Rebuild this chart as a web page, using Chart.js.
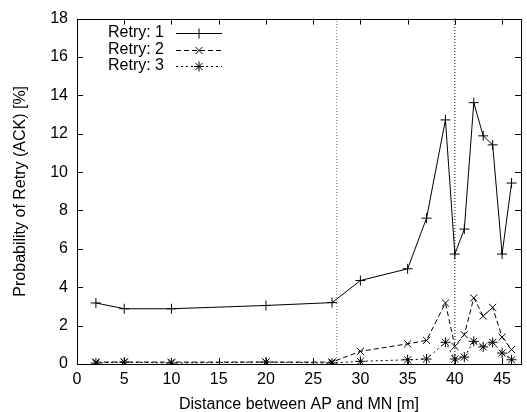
<!DOCTYPE html>
<html>
<head>
<meta charset="utf-8">
<script src="https://cdn.jsdelivr.net/npm/chart.js@4/dist/chart.umd.min.js"></script>
<style>
html,body{margin:0;padding:0;background:#fff;}
#wrap{width:527px;height:412px;position:relative;}
</style>
</head>
<body>
<div id="wrap"><canvas id="c" width="527" height="412"></canvas></div>
<script>
const xValues = [2, 5, 10, 20, 27, 30, 35, 37, 39, 40, 41, 42, 43, 44, 45, 46];
const retry1 = [3.18, 2.88, 2.88, 3.05, 3.2, 4.35, 4.96, 7.6, 12.72, 5.73, 7.03, 13.62, 11.89, 11.42, 5.73, 9.43];
const retry2 = [0.1, 0.1, 0.1, 0.1, 0.1, 0.66, 1.05, 1.23, 3.18, 0.92, 1.53, 3.44, 2.5, 2.95, 1.4, 0.75];
const retry3 = [0.05, 0.1, 0.05, 0.1, 0.05, 0.14, 0.22, 0.26, 1.13, 0.26, 0.36, 1.18, 0.89, 1.13, 0.57, 0.22];
const seriesNames = ['Retry: 1', 'Retry: 2', 'Retry: 3'];
const markerLines = [27.5, 40];
const xTicks = [0, 5, 10, 15, 20, 25, 30, 35, 40, 45];
const yTicks = [0, 2, 4, 6, 8, 10, 12, 14, 16, 18];
const xTitle = 'Distance between AP and MN [m]';
const yTitle = 'Probability of Retry (ACK) [%]';

const FONT = '"Liberation Sans", Arial, Helvetica, sans-serif';
const FS = 16;
const styles = [
  {dash: [], point: 'cross'},
  {dash: [5, 3], point: 'crossRot'},
  {dash: [2, 3], point: 'star'}
];
const seriesData = [retry1, retry2, retry3];

const datasets = seriesData.map((vals, i) => ({
  label: seriesNames[i],
  data: xValues.map((x, j) => ({x: x, y: vals[j]})),
  borderColor: '#000',
  backgroundColor: '#000',
  borderWidth: 1,
  borderDash: styles[i].dash,
  pointStyle: styles[i].point,
  pointRadius: 5,
  pointBorderWidth: 1,
  pointBorderColor: '#000',
  tension: 0,
  fill: false
}));
markerLines.forEach((v, i) => {
  datasets.push({
    label: 'marker' + i,
    data: [{x: v, y: 0}, {x: v, y: 18}],
    borderColor: i === 0 ? '#777' : '#000',
    borderWidth: 1,
    borderDash: [1, 2],
    pointRadius: 0,
    fill: false
  });
});

const framePlugin = {
  id: 'frame',
  afterDraw(chart) {
    const ctx = chart.ctx;
    const a = chart.chartArea;
    const xs = chart.scales.x, ys = chart.scales.y;
    ctx.save();
    ctx.strokeStyle = '#000';
    ctx.lineWidth = 1;
    ctx.setLineDash([]);
    ctx.strokeRect(Math.round(a.left) + 0.5, Math.round(a.top) + 0.5, Math.round(a.right - a.left), Math.round(a.bottom - a.top));
    const L = 6;
    ctx.beginPath();
    xTicks.forEach(v => {
      const px = Math.round(xs.getPixelForValue(v)) + 0.5;
      ctx.moveTo(px, a.bottom); ctx.lineTo(px, a.bottom - L);
      ctx.moveTo(px, a.top); ctx.lineTo(px, a.top + L);
    });
    yTicks.forEach(v => {
      const py = Math.round(ys.getPixelForValue(v)) + 0.5;
      ctx.moveTo(a.left, py); ctx.lineTo(a.left + L, py);
      ctx.moveTo(a.right, py); ctx.lineTo(a.right - L, py);
    });
    ctx.stroke();
    // legend
    ctx.font = FS + 'px ' + FONT;
    ctx.fillStyle = '#000';
    ctx.textAlign = 'right';
    ctx.textBaseline = 'middle';
    const textRight = 164, lx0 = 176, lx1 = 222, y0 = 33, dy = 16.5;
    seriesNames.forEach((n, i) => {
      const y = y0 + i * dy;
      ctx.fillText(n, textRight, y);
      ctx.beginPath();
      ctx.setLineDash(styles[i].dash);
      ctx.moveTo(lx0, Math.round(y) + 0.5); ctx.lineTo(lx1, Math.round(y) + 0.5);
      ctx.stroke();
      ctx.setLineDash([]);
      Chart.helpers.drawPoint(ctx, {pointStyle: styles[i].point, radius: 5, borderWidth: 1, rotation: 0}, (lx0 + lx1) / 2, Math.round(y) + 0.5);
    });
    ctx.restore();
  }
};

new Chart(document.getElementById('c'), {
  type: 'line',
  data: {datasets: datasets},
  options: {
    responsive: false,
    animation: false,
    layout: {padding: {left: 0, right: 1, top: 18, bottom: 0}},
    plugins: {legend: {display: false}, tooltip: {enabled: false}},
    scales: {
      x: {
        type: 'linear',
        min: 0, max: 47,
        afterBuildTicks: s => { s.ticks = xTicks.map(v => ({value: v})); },
        afterFit: s => { s.height = 48; },
        grid: {display: false, drawTicks: false},
        border: {display: false},
        ticks: {color: '#000', font: {family: FONT, size: FS}, padding: 6, maxRotation: 0, autoSkip: false},
        title: {display: true, text: xTitle, color: '#000', font: {family: FONT, size: FS, lineHeight: 0.875}, padding: {top: 0, bottom: 0}}
      },
      y: {
        type: 'linear',
        min: 0, max: 18,
        afterBuildTicks: s => { s.ticks = yTicks.map(v => ({value: v})); },
        afterFit: s => { s.width = 77; },
        grid: {display: false, drawTicks: false},
        border: {display: false},
        ticks: {color: '#000', font: {family: FONT, size: FS}, padding: 9, autoSkip: false},
        title: {display: true, text: yTitle, color: '#000', font: {family: FONT, size: FS}, padding: {top: 11, bottom: 0}}
      }
    }
  },
  plugins: [framePlugin]
});
</script>
</body>
</html>
